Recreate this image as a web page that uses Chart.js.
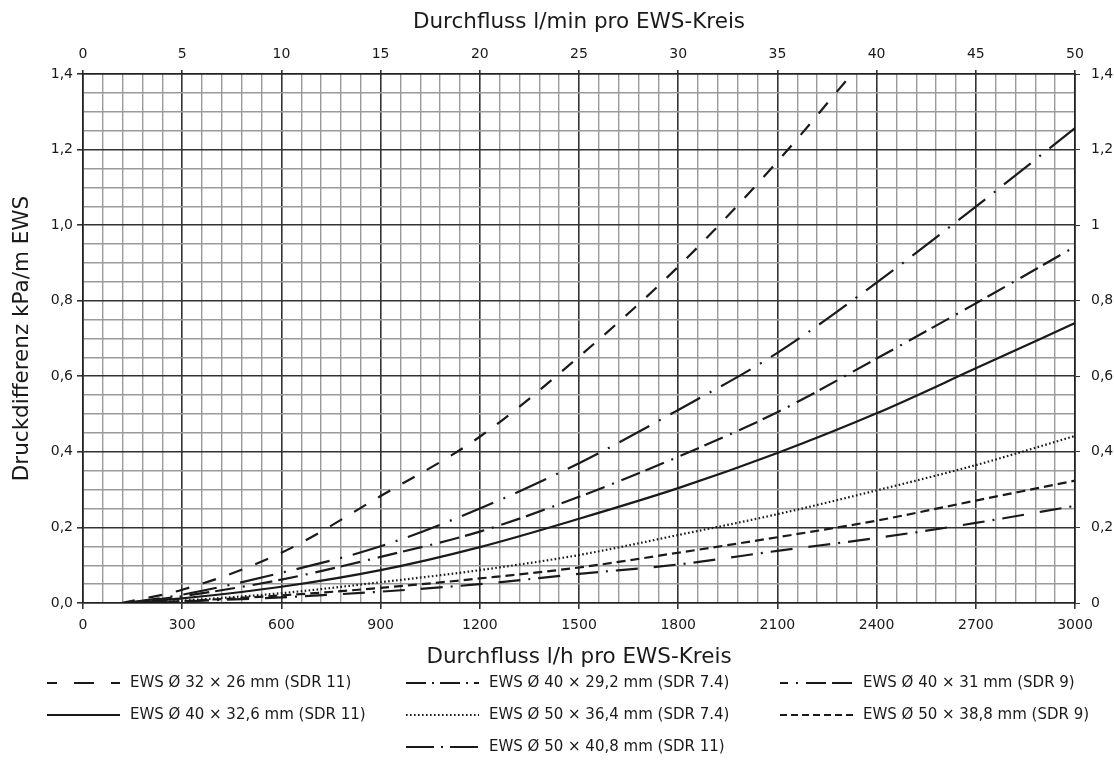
<!DOCTYPE html>
<html>
<head>
<meta charset="utf-8">
<script src="https://cdn.jsdelivr.net/npm/chart.js@4.4.1/dist/chart.umd.min.js"></script>
<style>
  html, body { margin: 0; padding: 0; background: #fff; }
  #wrap { width: 1114px; height: 774px; }
</style>
</head>
<body>
<div id="wrap"><canvas id="druckChart" width="1114" height="774"></canvas></div>
<script>
// Druckdifferenz je Meter Sonde [kPa/m] über Durchfluss [l/h]
const ews32x26   = [[115, 0], [300, 0.035], [600, 0.133], [900, 0.283], [1200, 0.44], [1500, 0.652], [1800, 0.89], [2100, 1.168], [2325, 1.4]];
const ews40x29_2 = [[130, 0], [300, 0.022], [600, 0.08], [900, 0.15], [1200, 0.25], [1500, 0.37], [1800, 0.511], [2100, 0.662], [2400, 0.848], [2700, 1.049], [3000, 1.257]];
const ews40x31   = [[130, 0], [300, 0.018], [600, 0.062], [900, 0.122], [1200, 0.189], [1500, 0.281], [1800, 0.387], [2100, 0.505], [2400, 0.647], [2700, 0.793], [3000, 0.943]];
const ews40x32_6 = [[150, 0], [300, 0.012], [600, 0.043], [900, 0.087], [1200, 0.148], [1500, 0.223], [1800, 0.304], [2100, 0.397], [2400, 0.502], [2700, 0.621], [3000, 0.741]];
const ews50x36_4 = [[200, 0], [300, 0.006], [600, 0.026], [900, 0.055], [1200, 0.087], [1500, 0.127], [1800, 0.18], [2100, 0.235], [2400, 0.298], [2700, 0.365], [3000, 0.442]];
const ews50x38_8 = [[180, 0], [300, 0.005], [600, 0.02], [900, 0.04], [1200, 0.065], [1500, 0.094], [1800, 0.133], [2100, 0.174], [2400, 0.218], [2700, 0.271], [3000, 0.324]];
const ews50x40_8 = [[200, 0], [300, 0.004], [600, 0.015], [900, 0.03], [1200, 0.05], [1500, 0.077], [1800, 0.102], [2100, 0.138], [2400, 0.172], [2700, 0.212], [3000, 0.257]];

const seriesLabels = [
  'EWS Ø 32 × 26 mm (SDR 11)',
  'EWS Ø 40 × 29,2 mm (SDR 7.4)',
  'EWS Ø 40 × 31 mm (SDR 9)',
  'EWS Ø 40 × 32,6 mm (SDR 11)',
  'EWS Ø 50 × 36,4 mm (SDR 7.4)',
  'EWS Ø 50 × 38,8 mm (SDR 9)',
  'EWS Ø 50 × 40,8 mm (SDR 11)'
];

const xTitle = 'Durchfluss l/h pro EWS-Kreis';
const x2Title = 'Durchfluss l/min pro EWS-Kreis';
const yTitle = 'Druckdifferenz kPa/m EWS';

// Strichmuster der Kurven
const lineDash = [
  [14, 14],
  [34, 11, 2, 11],
  [20, 6, 20, 8, 2, 8],
  [],
  [1.6, 2.4],
  [9, 5],
  [22, 16, 22, 8, 2, 8]
];
// Muster in der Legende (kürzere Stücke)
const legendDash = [
  [20, 17], [20, 6, 2, 6], [20, 6, 20, 8, 2, 8], [], [1.6, 2.4], [7, 4], [28, 7, 2, 7]
];
const legendOffset = [10, 0, 38, 0, 0, 0, 0];
// [Spalte, Zeile]
const legendSlots = [[0, 0], [1, 0], [2, 0], [0, 1], [1, 1], [2, 1], [1, 2]];

const FONT = 'DejaVu Sans';
const INK = '#1a1a1a';

const isMajorX = v => Math.round(v) % 300 === 0;
const isMajorY = v => Math.round(v * 100) % 20 === 0;

const legendGrid = {
  id: 'legendGrid',
  afterDraw(chart, args, opts) {
    const { ctx } = chart;
    chart.data.datasets.forEach((ds, i) => {
      const [col, row] = legendSlots[i];
      const x = opts.colX[col];
      const y = opts.rowY[row];
      ctx.save();
      ctx.strokeStyle = ds.borderColor;
      ctx.lineWidth = ds.borderWidth;
      ctx.lineCap = 'butt';
      ctx.setLineDash(legendDash[i]);
      ctx.lineDashOffset = legendOffset[i];
      ctx.beginPath();
      ctx.moveTo(x, y);
      ctx.lineTo(x + opts.symbolWidth, y);
      ctx.stroke();
      ctx.setLineDash([]);
      ctx.fillStyle = INK;
      ctx.font = opts.font;
      ctx.textBaseline = 'middle';
      ctx.fillText(ds.label, x + opts.symbolWidth + opts.gap, y);
      ctx.restore();
    });
  }
};

const seriesData = [ews32x26, ews40x29_2, ews40x31, ews40x32_6, ews50x36_4, ews50x38_8, ews50x40_8];

const datasets = seriesData.map((pts, i) => ({
  label: seriesLabels[i],
  data: pts,
  borderColor: INK,
  borderWidth: 2.2,
  borderDash: lineDash[i],
  pointRadius: 0,
  fill: false,
  cubicInterpolationMode: 'monotone',
  xAxisID: 'x',
  yAxisID: 'y'
}));

const fmtLeft = v => v.toFixed(1).replace('.', ',');
const fmtRight = v => String(Math.round(v * 10) / 10).replace('.', ',');

new Chart(document.getElementById('druckChart'), {
  type: 'line',
  data: { datasets },
  plugins: [legendGrid],
  options: {
    responsive: false,
    animation: false,
    devicePixelRatio: 1,
    layout: { padding: { top: 0, right: 0, bottom: 101, left: 0 } },
    plugins: {
      legend: { display: false },
      tooltip: { enabled: false },
      legendGrid: {
        colX: [47, 406, 780],
        rowY: [683, 715, 747],
        symbolWidth: 73,
        gap: 10,
        font: '15px "' + FONT + '"'
      }
    },
    scales: {
      x: {
        type: 'linear',
        position: 'bottom',
        min: 0,
        max: 3000,
        ticks: {
          stepSize: 60,
          autoSkip: false,
          maxRotation: 0,
          padding: 8,
          color: INK,
          font: { family: FONT, size: 14 },
          callback: v => isMajorX(v) ? String(Math.round(v)) : ''
        },
        grid: {
          color: c => isMajorX(c.tick.value) ? '#333' : '#9a9a9a',
          lineWidth: c => isMajorX(c.tick.value) ? 1.6 : 1.4,
          tickColor: c => isMajorX(c.tick.value) ? '#333' : 'rgba(0,0,0,0)',
          tickLength: 6
        },
        border: { color: '#222', width: 1.6 },
        title: {
          display: true,
          text: xTitle,
          color: INK,
          font: { family: FONT, size: 21.5 },
          padding: { top: 0, bottom: 3 }
        },
        afterFit: s => { s.height = 70; }
      },
      x2: {
        type: 'linear',
        position: 'top',
        min: 0,
        max: 50,
        ticks: {
          stepSize: 5,
          maxRotation: 0,
          padding: 7,
          color: INK,
          font: { family: FONT, size: 14 }
        },
        grid: { drawOnChartArea: false, color: '#333', tickLength: 4, lineWidth: 1.6 },
        border: { color: '#222', width: 1.6 },
        title: {
          display: true,
          text: x2Title,
          color: INK,
          font: { family: FONT, size: 21.5 },
          padding: { top: 10, bottom: 0 }
        },
        afterFit: s => { s.height = 74; }
      },
      y: {
        type: 'linear',
        position: 'left',
        min: 0,
        max: 1.4,
        ticks: {
          stepSize: 0.05,
          autoSkip: false,
          padding: 4,
          color: INK,
          font: { family: FONT, size: 14 },
          callback: v => isMajorY(v) ? fmtLeft(v) : ''
        },
        grid: {
          color: c => isMajorY(c.tick.value) ? '#333' : '#9a9a9a',
          lineWidth: c => isMajorY(c.tick.value) ? 1.6 : 1.4,
          tickColor: c => isMajorY(c.tick.value) ? '#333' : 'rgba(0,0,0,0)',
          tickLength: 6
        },
        border: { color: '#222', width: 1.6 },
        title: {
          display: true,
          text: yTitle,
          color: INK,
          font: { family: FONT, size: 21.5 },
          padding: { top: 10, bottom: 0 }
        },
        afterFit: s => { s.width = 83; }
      },
      y2: {
        type: 'linear',
        position: 'right',
        min: 0,
        max: 1.4,
        ticks: {
          stepSize: 0.05,
          autoSkip: false,
          padding: 11,
          color: INK,
          font: { family: FONT, size: 14 },
          callback: v => isMajorY(v) ? fmtRight(v) : ''
        },
        grid: {
          drawOnChartArea: false,
          tickColor: c => isMajorY(c.tick.value) ? '#333' : 'rgba(0,0,0,0)',
          tickLength: 5
        },
        border: { color: '#222', width: 1.6 },
        afterFit: s => { s.width = 39; }
      }
    }
  }
});
</script>
</body>
</html>
